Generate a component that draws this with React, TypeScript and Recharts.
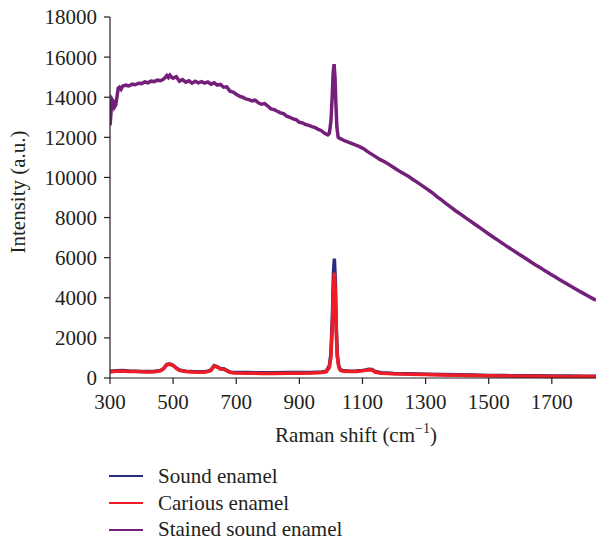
import { LineChart, Line, XAxis, YAxis } from 'recharts';

const FONT = '"Liberation Serif", "DejaVu Serif", serif';
const INK = '#231f20';

const SERIES_NAMES = ['Sound enamel', 'Carious enamel', 'Stained sound enamel'];
const SERIES_COLORS = ['#2b2c7c', '#ee1d25', '#74207a'];

const X_TICKS = [300, 500, 700, 900, 1100, 1300, 1500, 1700];
const Y_TICKS = [0, 2000, 4000, 6000, 8000, 10000, 12000, 14000, 16000, 18000];

// shared Raman shift grid for sound / carious enamel (cm-1)
const baseShift = [
  300, 310, 320, 340, 360, 380, 400, 420, 440, 460, 470, 480, 490, 500, 510, 520, 540, 560, 580, 600,
  610, 620, 630, 640, 650, 660, 670, 680, 690, 700, 740, 780, 820, 860, 900, 940, 970, 985, 995, 1000,
  1005, 1008, 1011, 1014, 1017, 1020, 1025, 1030, 1040, 1060, 1080, 1100, 1110, 1120, 1130, 1140, 1160,
  1200, 1250, 1300, 1350, 1400, 1450, 1500, 1550, 1600, 1650, 1700, 1750, 1800, 1840,
];

const soundIntensity = [
  340, 350, 360, 370, 350, 340, 330, 320, 330, 380, 480, 680, 700, 640, 500, 400, 340, 320, 310, 320,
  340, 400, 620, 560, 470, 460, 380, 300, 280, 280, 270, 260, 260, 270, 270, 280, 300, 340, 600, 1200,
  3200, 5200, 5950, 4800, 2600, 1200, 600, 420, 360, 340, 350, 380, 400, 430, 420, 320, 260,
  230, 210, 190, 170, 160, 150, 130, 120, 110, 110, 100, 100, 90, 90,
];

const cariousIntensity = [
  300, 320, 340, 350, 330, 320, 310, 300, 310, 360, 460, 660, 680, 620, 480, 380, 320, 300, 290, 300,
  320, 380, 600, 540, 450, 440, 360, 280, 260, 250, 240, 230, 230, 240, 240, 250, 270, 310, 520, 1050,
  2800, 4600, 5250, 4300, 2300, 1050, 540, 380, 330, 320, 330, 360, 380, 410, 400, 300, 240,
  210, 190, 170, 150, 140, 130, 110, 100, 90, 90, 80, 80, 70, 70,
];

// stained sound enamel has its own, denser grid
const stainedShift = [
  300, 303, 306, 310, 314, 318, 322, 326, 330, 335, 340, 350, 360, 370, 380, 390, 400, 410, 420, 430,
  440, 450, 460, 470, 480, 485, 490, 495, 500, 510, 520, 530, 540, 550, 560, 570, 580, 590, 600, 610,
  620, 630, 640, 650, 660, 670, 680, 690, 700, 710, 720, 730, 740, 750, 760, 770, 780, 790, 800, 810,
  820, 830, 840, 850, 860, 870, 880, 890, 900, 910, 920, 930, 940, 950, 960, 970, 980, 990, 995, 1000,
  1004, 1007, 1010, 1013, 1016, 1019, 1023, 1028, 1035, 1045, 1055, 1065, 1075, 1085, 1095, 1105, 1115,
  1125, 1135, 1145, 1155, 1170, 1185, 1200, 1215, 1230, 1245, 1260, 1275, 1290, 1305, 1320, 1335, 1350,
  1365, 1380, 1395, 1410, 1425, 1440, 1455, 1470, 1485, 1500, 1515, 1530, 1545, 1560, 1575, 1590, 1605,
  1620, 1635, 1650, 1665, 1680, 1695, 1710, 1725, 1740, 1755, 1770, 1785, 1800, 1815, 1830, 1840,
];

const stainedIntensity = [
  12600, 13200, 13900, 13800, 13500, 13600, 14000, 14450, 14500, 14400, 14550, 14600, 14560, 14650, 14620, 14700, 14680, 14760, 14720, 14800,
  14780, 14850, 14820, 14900, 15080, 14980, 15100, 15000, 14950, 15020, 14800, 14880, 14750, 14820, 14700, 14800, 14720, 14780, 14700, 14760,
  14650, 14720, 14600, 14640, 14500, 14520, 14300, 14260, 14150, 14050, 14000, 13920, 13880, 13820, 13850, 13720, 13650, 13680, 13560, 13420,
  13380, 13300, 13220, 13180, 13050, 13000, 12920, 12880, 12750, 12720, 12640, 12600, 12530, 12480, 12400, 12330, 12200, 12120, 12200, 12800,
  14000, 15200, 15650, 15000, 13600, 12500, 12000, 11950, 11900, 11820, 11760, 11700, 11640, 11580, 11500, 11420, 11300,
  11200, 11100, 11000, 10900, 10780, 10640, 10480, 10330, 10200, 10060, 9900, 9740, 9580, 9420, 9250, 9060, 8880,
  8700, 8520, 8340, 8180, 8010, 7850, 7680, 7520, 7350, 7180, 7020, 6860, 6700, 6540, 6390, 6230, 6080,
  5930, 5770, 5620, 5480, 5330, 5190, 5050, 4900, 4760, 4620, 4490, 4350, 4220, 4090, 3960, 3880,
];

const soundData = baseShift.map((x, i) => ({ x, y: soundIntensity[i] }));
const cariousData = baseShift.map((x, i) => ({ x, y: cariousIntensity[i] }));
const stainedData = stainedShift.map((x, i) => ({ x, y: stainedIntensity[i] }));

const YLabel = () => (
  <text
    x={25}
    y={192}
    transform="rotate(-90, 25, 192)"
    textAnchor="middle"
    fontFamily={FONT}
    fontSize={21}
    fill={INK}
  >
    Intensity (a.u.)
  </text>
);

const XLabel = () => (
  <text x={356} y={442} textAnchor="middle" fontFamily={FONT} fontSize={21} fill={INK}>
    Raman shift (cm
    <tspan dy={-9} fontSize={14}>−1</tspan>
    <tspan dy={9}>)</tspan>
  </text>
);

const tickStyle = { fontFamily: FONT, fontSize: 21, fill: INK };

export default function App() {
  const legend = [
    { name: SERIES_NAMES[0], color: SERIES_COLORS[0] },
    { name: SERIES_NAMES[1], color: SERIES_COLORS[1] },
    { name: SERIES_NAMES[2], color: SERIES_COLORS[2] },
  ];
  return (
    <div style={{ width: 596, height: 540, overflow: 'hidden' }}>
      <style>{'body { margin: 0; overflow: hidden; }'}</style>
      <LineChart width={596} height={458} margin={{ top: 17, right: 0, bottom: 20, left: 0 }}>
        <XAxis
          dataKey="x"
          type="number"
          domain={[300, 1840]}
          allowDataOverflow
          ticks={X_TICKS}
          tick={tickStyle}
          tickSize={6}
          tickMargin={10}
          height={60}
          stroke={INK}
          strokeWidth={1.2}
          label={<XLabel />}
        />
        <YAxis
          type="number"
          domain={[0, 18000]}
          ticks={Y_TICKS}
          tick={tickStyle}
          tickSize={6}
          tickMargin={7}
          width={110}
          stroke={INK}
          strokeWidth={1.2}
          label={<YLabel />}
        />
        <Line data={stainedData} dataKey="y" name={SERIES_NAMES[2]} stroke={SERIES_COLORS[2]} strokeWidth={3.5} dot={false} isAnimationActive={false} />
        <Line data={soundData} dataKey="y" name={SERIES_NAMES[0]} stroke={SERIES_COLORS[0]} strokeWidth={3.5} dot={false} isAnimationActive={false} />
        <Line data={cariousData} dataKey="y" name={SERIES_NAMES[1]} stroke={SERIES_COLORS[1]} strokeWidth={3.5} dot={false} isAnimationActive={false} />
      </LineChart>
      <div style={{ marginTop: 5, fontFamily: FONT, fontSize: 21, color: INK }}>
        {legend.map((s) => (
          <div key={s.name} style={{ display: 'flex', alignItems: 'center', height: 26.7 }}>
            <span style={{ display: 'inline-block', marginLeft: 109, width: 34, height: 2, background: s.color }} />
            <span style={{ marginLeft: 15 }}>{s.name}</span>
          </div>
        ))}
      </div>
    </div>
  );
}
